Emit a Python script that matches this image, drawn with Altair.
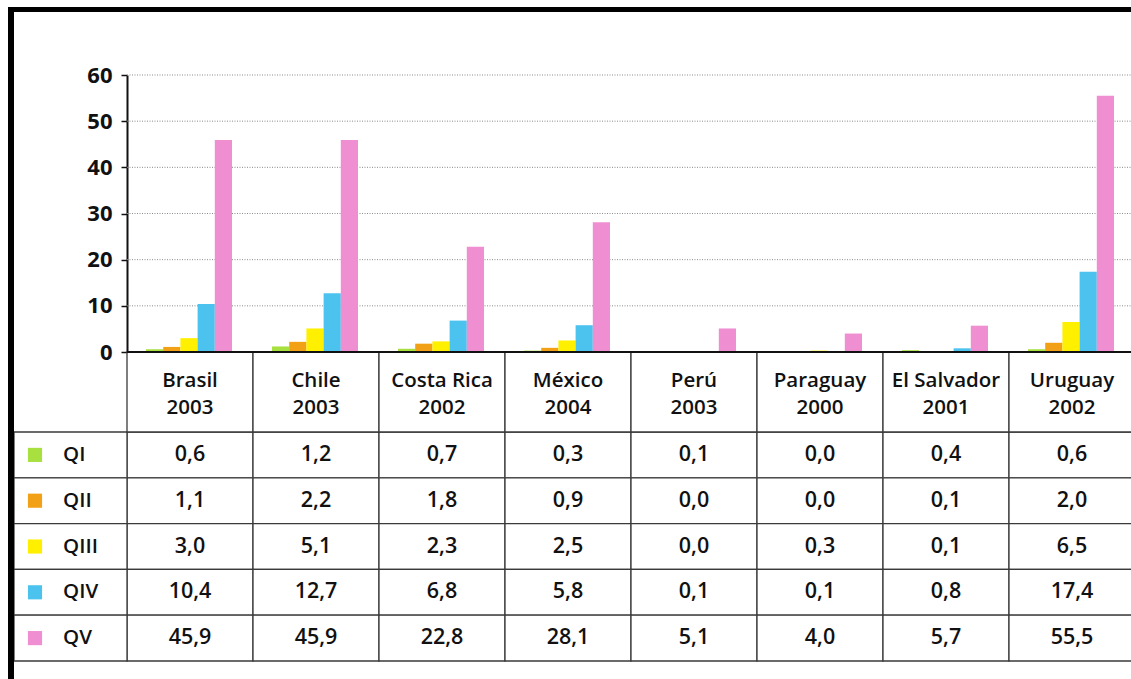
import altair as alt
import pandas as pd

countries = ["Brasil", "Chile", "Costa Rica", "México", "Perú", "Paraguay", "El Salvador", "Uruguay"]
years = ["2003", "2003", "2002", "2004", "2003", "2000", "2001", "2002"]
quarters = ["QI", "QII", "QIII", "QIV", "QV"]
q1 = [0.6, 1.2, 0.7, 0.3, 0.1, 0.0, 0.4, 0.6]
q2 = [1.1, 2.2, 1.8, 0.9, 0.0, 0.0, 0.1, 2.0]
q3 = [3.0, 5.1, 2.3, 2.5, 0.0, 0.3, 0.1, 6.5]
q4 = [10.4, 12.7, 6.8, 5.8, 0.1, 0.1, 0.8, 17.4]
q5 = [45.9, 45.9, 22.8, 28.1, 5.1, 4.0, 5.7, 55.5]
y_ticks = [0, 10, 20, 30, 40, 50, 60]
colors = ["#a8e040", "#f2a116", "#fff000", "#4cc3ef", "#ef8fd2"]

series = [q1, q2, q3, q4, q5]
rows = []
for qi, q in enumerate(quarters):
    for ci, c in enumerate(countries):
        v = series[qi][ci]
        rows.append({"country": c, "quarter": q, "value": v,
                     "label": f"{v:.1f}".replace(".", ",")})
df = pd.DataFrame(rows)
hdr = pd.DataFrame({"country": countries, "year": years,
                    "head": [f"{c}\n{y}" for c, y in zip(countries, years)]})
qdf = pd.DataFrame({"quarter": quarters})
grid_df = pd.DataFrame({"t": y_ticks[1:]})
one = pd.DataFrame({"a": [0]})

FONT = "Open Sans"
TXT = 20.5
VAL = 21.5
W = 600
PLOT_L, PLOT_R = 127, 1135
Y0, Y60 = 352, 75
HDR_B, TBL_B = 432, 661

xscale = alt.Scale(domain=countries, range=[PLOT_L, PLOT_R], paddingInner=0, paddingOuter=0)
yscale = alt.Scale(domain=[0, 60], range=[Y0, Y60], nice=False, zero=True)
rowscale = alt.Scale(type="band", domain=quarters, range=[HDR_B, TBL_B], paddingInner=0, paddingOuter=0)
cscale = alt.Scale(domain=quarters, range=colors)

grid = alt.Chart(grid_df).mark_rule(color="#8a8a8a", strokeWidth=1, strokeDash=[1, 1.5]).encode(
    y=alt.Y("t:Q", scale=yscale, axis=None),
    x=alt.value(PLOT_L), x2=alt.value(1131),
)

bars = alt.Chart(df).mark_bar(opacity=1).encode(
    x=alt.X("country:N", scale=xscale, axis=None, sort=countries),
    xOffset=alt.XOffset("quarter:N", scale=alt.Scale(domain=quarters, range=[19, 105],
                                                       paddingInner=0, paddingOuter=0)),
    y=alt.Y("value:Q", scale=yscale, axis=alt.Axis(
        values=y_ticks, offset=-PLOT_L, grid=False, title=None,
        domainColor="#111", domainWidth=2, tickColor="#111", tickWidth=1.5, tickSize=6,
        labelFont=FONT, labelFontSize=22, labelFontWeight="bold", labelColor="#111",
        labelPadding=9)),
    color=alt.Color("quarter:N", scale=cscale, legend=None),
)

xaxis = alt.Chart(one).mark_rule(color="#111", strokeWidth=2).encode(
    y=alt.Y(datum=0, scale=yscale, axis=None),
    x=alt.value(PLOT_L), x2=alt.value(1131),
)

cells = alt.Chart(df).mark_rect(fill="white", stroke="#3a3a3a", strokeWidth=1.3).encode(
    x=alt.X("country:N", scale=xscale, axis=None, sort=countries),
    y=alt.Y("quarter:N", scale=rowscale, axis=None),
)
left_cells = alt.Chart(qdf).mark_rect(fill="white", stroke="#3a3a3a", strokeWidth=1.3).encode(
    x=alt.value(14), x2=alt.value(PLOT_L),
    y=alt.Y("quarter:N", scale=rowscale, axis=None),
)
hdr_cells = alt.Chart(hdr).mark_rect(fill="white", stroke="#3a3a3a", strokeWidth=1.3).encode(
    x=alt.X("country:N", scale=xscale, axis=None, sort=countries),
    y=alt.value(Y0), y2=alt.value(HDR_B),
)
hdr_text = alt.Chart(hdr).mark_text(lineBreak="\n", lineHeight=27, font=FONT, fontSize=TXT,
                                     fontWeight=W, color="#111", baseline="middle").encode(
    x=alt.X("country:N", scale=xscale, axis=None, sort=countries),
    y=alt.value(381),
    text="head:N",
)
val_text = alt.Chart(df).mark_text(font=FONT, fontSize=VAL, fontWeight=W, color="#111",
                                   baseline="middle").encode(
    x=alt.X("country:N", scale=xscale, axis=None, sort=countries),
    y=alt.Y("quarter:N", scale=rowscale, axis=None),
    text="label:N",
)
squares = alt.Chart(qdf).mark_square(size=200, opacity=1).encode(
    x=alt.value(35),
    y=alt.Y("quarter:N", scale=rowscale, axis=None),
    color=alt.Color("quarter:N", scale=cscale, legend=None),
)
qlabels = alt.Chart(qdf).mark_text(font=FONT, fontSize=TXT, fontWeight=W, color="#111",
                                   align="left", baseline="middle").encode(
    x=alt.value(63),
    y=alt.Y("quarter:N", scale=rowscale, axis=None),
    text="quarter:N",
)
frame_left = alt.Chart(one).mark_rule(color="#000", strokeWidth=6).encode(
    x=alt.value(11), y=alt.value(7), y2=alt.value(679))
frame_top = alt.Chart(one).mark_rule(color="#000", strokeWidth=5).encode(
    y=alt.value(9.5), x=alt.value(8), x2=alt.value(1131))

chart = alt.layer(
    grid, bars, cells, left_cells, hdr_cells, xaxis, hdr_text, val_text, squares, qlabels,
    frame_left, frame_top,
).resolve_scale(y="independent").properties(
    width=1131, height=679, padding=0, autosize="none", background="white",
).configure_view(stroke=None)

chart.save("out.html", embed_options={"renderer": "svg", "actions": False})
